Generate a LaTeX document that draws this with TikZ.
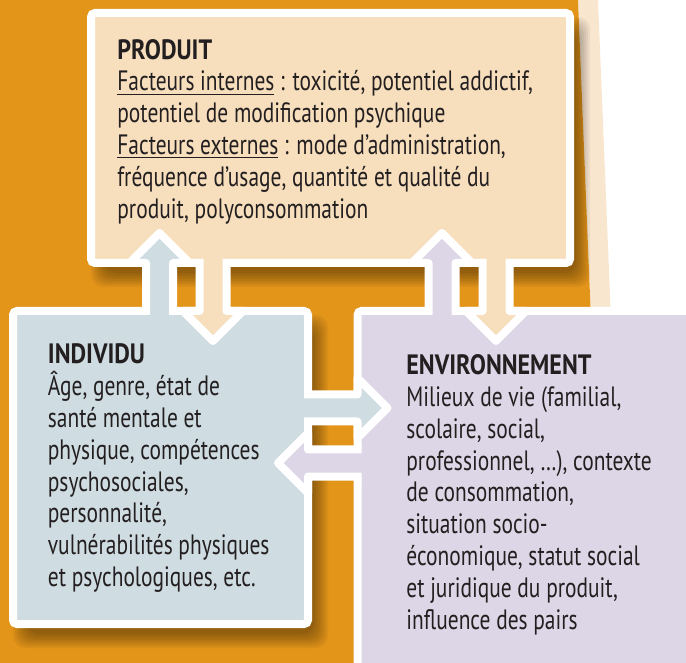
\documentclass[tikz,border=0pt]{standalone}
\usepackage{fontspec}
\setmainfont{PT Sans}[FakeStretch=0.765]
\newfontfamily\headfont{PT Sans}[FakeStretch=0.86]
\usepackage{tikz}
\usetikzlibrary{calc,positioning,backgrounds}
\definecolor{cOrange}{HTML}{E3951A}
\definecolor{cStrip}{HTML}{F8E6CF}
\definecolor{cProd}{HTML}{F7DFBD}
\definecolor{cIndiv}{HTML}{CFDCE1}
\definecolor{cEnv}{HTML}{DCD6E6}
\definecolor{cInk}{HTML}{231F20}
\tikzset{
  box/.style={draw=white,fill=#1,line width=4pt,rounded corners=2pt,inner sep=0pt,outer sep=0pt},
  rim/.style={draw=white,line width=4pt,line join=round},
  txt/.style={align=left,inner sep=0pt,text=cInk,font=\fontsize{14pt}{15.9pt}\selectfont},
  shade/.style={fill=black,opacity=0.05,rounded corners=6pt},
}
\newcommand{\head}[1]{{\headfont\bfseries #1}}
% fat double arrow: colour, start (inside source box), tip
\newcommand{\flowarrow}[3]{%
  \coordinate (fs) at (#2);
  \coordinate (ft) at (#3);
  \coordinate (fb) at ($(fs)!-1pt!(ft)$);
  \coordinate (fh) at ($(ft)!15pt!(fs)$);
  \fill[#1] ($(fb)!6.75pt!90:(ft)$) -- ($(fh)!6.75pt!-90:(fb)$) -- ($(fh)!15pt!-90:(fb)$) -- (ft)
    -- ($(fh)!15pt!90:(fb)$) -- ($(fh)!6.75pt!90:(fb)$) -- ($(fb)!6.75pt!-90:(ft)$) -- cycle;
  \draw[rim] ($(fs)!6.75pt!90:(ft)$) -- ($(fh)!6.75pt!-90:(fs)$) -- ($(fh)!15pt!-90:(fs)$) -- (ft)
    -- ($(fh)!15pt!90:(fs)$) -- ($(fh)!6.75pt!90:(fs)$) -- ($(fs)!6.75pt!-90:(ft)$);
}

\begin{document}
\begin{tikzpicture}[x=0.5pt,y=-0.5pt]
  \useasboundingbox (0,0) rectangle (686,663);

  % the three boxes
  \node[box=cProd,minimum width=239.5pt,minimum height=125pt] (prod) at (330.5,138) {};
  \node[box=cIndiv,minimum width=147.5pt,minimum height=156.5pt] (indiv) at (160.5,467.5) {};
  \node[box=cEnv,minimum width=181.25pt,minimum height=194.5pt] (env) at (538.75,505.5) {};

  \begin{pgfonlayer}{background}
    \fill[cStrip] (578,0) -- (598,0) -- (611,320) -- (591,320) -- cycle;
    \fill[cOrange] (0,0) -- (578,0) -- (591,320) -- (591,663) -- (0,663) -- cycle;
    % soft shadows
    \foreach \g in {0,2,...,14}{
      \fill[shade] ($(prod.north west)+(14-\g,18-\g)$) rectangle ($(prod.south east)+(6+\g,10+\g)$);
      \fill[shade] ($(indiv.north west)+(14-\g,18-\g)$) rectangle ($(indiv.south east)+(6+\g,10+\g)$);
    }
  \end{pgfonlayer}

  % arrows between the boxes
  \flowarrow{cIndiv}{$(indiv.north)+(-1,4)$}{$(prod.south)+(-171,-30)$}
  \flowarrow{cProd}{$(prod.south)+(-117.5,-4)$}{$(indiv.north)+(52.5,30)$}
  \flowarrow{cEnv}{$(env.north)+(-96.75,4)$}{$(prod.south)+(111.5,-30)$}
  \flowarrow{cProd}{$(prod.south)+(165.5,-4)$}{$(env.north)+(-42.75,30)$}
  \flowarrow{cIndiv}{$(indiv.east)+(-4,-59.5)$}{$(env.west)+(30,-97.5)$}
  \flowarrow{cEnv}{$(env.west)+(4,-42.5)$}{$(indiv.east)+(-30,-4.5)$}

  \node[txt,below right=12.85pt and 13pt of prod.north west] (prodtxt) {\head{PRODUIT}\\
    \underline{Facteurs internes} : toxicité, potentiel addictif,\\
    potentiel de modification psychique\\
    \underline{Facteurs externes} : mode d’administration,\\
    fréquence d’usage, quantité et qualité du\\
    produit, polyconsommation};
  \node[txt,below right=16.35pt and 17.25pt of indiv.north west] (indivtxt) {\head{INDIVIDU}\\
    Âge, genre, état de\\
    santé mentale et\\
    physique, compétences\\
    psychosociales,\\
    personnalité,\\
    vulnérabilités physiques\\
    et psychologiques, etc.};
  \node[txt,below right=21.7pt and 24.25pt of env.north west] (envtxt) {\head{ENVIRONNEMENT}\\
    Milieux de vie (familial,\\
    scolaire, social,\\
    professionnel, …), contexte\\
    de consommation,\\
    situation socio-\\
    économique, statut social\\
    et juridique du produit,\\
    influence des pairs};
\end{tikzpicture}
\end{document}
